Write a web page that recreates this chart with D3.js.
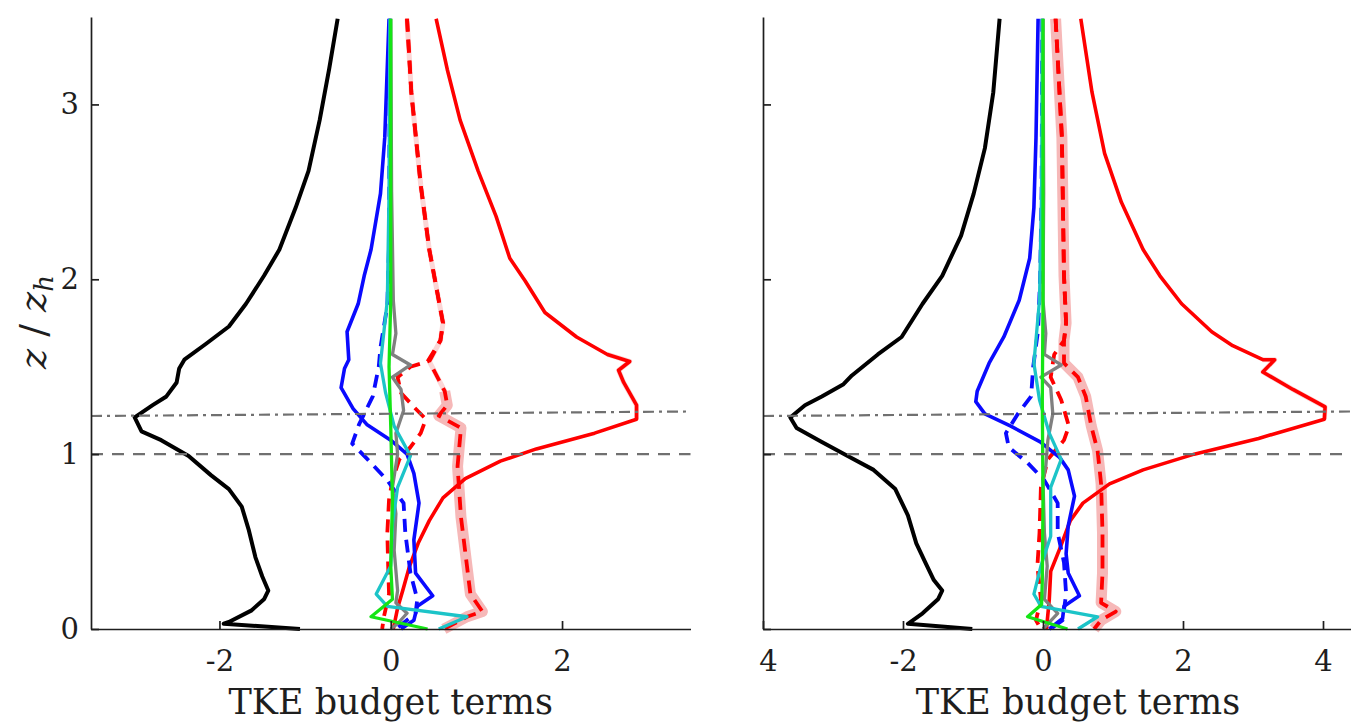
<!DOCTYPE html>
<html>
<head>
<meta charset="utf-8">
<script src="https://cdn.jsdelivr.net/npm/d3@7"></script>
<style>
  body { margin: 0; background: #fff; }
  svg { display: block; font-family: 'DejaVu Serif', 'Liberation Serif', 'Times New Roman', serif; }
</style>
</head>
<body>
<script>
// values: [term, z/zh]
const zDomain = [0, 3.5];
const yTicks = [0, 1, 2, 3];
const leftTicks = [-2, 0, 2];
const rightTicks = [-4, -2, 0, 2, 4];
const rightTickLabels = ['4', '-2', '0', '2', '4'];
const zDashed = 1;
const zDashDot = [1.218, 1.244];

const LBlack = [[-0.62,3.49],[-0.72,3.20],[-0.83,2.91],[-0.96,2.62],[-1.11,2.41],[-1.30,2.17],[-1.48,2.02],[-1.69,1.86],[-1.89,1.73],[-2.16,1.63],[-2.41,1.54],[-2.47,1.49],[-2.50,1.41],[-2.62,1.33],[-2.78,1.28],[-2.99,1.21],[-2.91,1.13],[-2.68,1.08],[-2.36,0.99],[-2.10,0.88],[-1.89,0.80],[-1.74,0.70],[-1.66,0.57],[-1.58,0.41],[-1.50,0.30],[-1.43,0.22],[-1.48,0.17],[-1.63,0.105],[-1.89,0.04],[-1.95,0.03],[-1.06,0.0]];
const LRed = [[0.53,3.49],[0.66,3.20],[0.81,2.91],[1.02,2.62],[1.23,2.36],[1.39,2.12],[1.57,1.99],[1.80,1.81],[2.17,1.67],[2.53,1.57],[2.79,1.53],[2.66,1.48],[2.72,1.41],[2.87,1.28],[2.87,1.20],[2.38,1.12],[1.70,1.03],[1.28,0.96],[0.87,0.86],[0.61,0.75],[0.45,0.62],[0.32,0.49],[0.22,0.36],[0.14,0.22],[0.08,0.12],[0.03,0.0]];
const LRedDashA = [[0.19,3.49],[0.24,3.07],[0.35,2.54],[0.45,2.17],[0.53,1.96],[0.61,1.75],[0.58,1.65],[0.43,1.53],[0.23,1.50],[0.08,1.44],[0.12,1.35],[0.27,1.27],[0.41,1.20],[0.35,1.12],[0.23,1.04],[0.10,0.97],[0.02,0.85],[-0.02,0.74],[-0.04,0.55],[-0.03,0.36],[-0.02,0.20],[-0.08,0.07],[-0.10,0.0]];
const LRedDashB = [[0.19,3.49],[0.24,3.07],[0.35,2.54],[0.45,2.17],[0.53,1.96],[0.61,1.75],[0.58,1.65],[0.45,1.53],[0.63,1.36],[0.66,1.28],[0.56,1.22],[0.82,1.15],[0.78,0.93],[0.82,0.64],[0.89,0.36],[0.93,0.20],[1.07,0.10],[0.89,0.07],[0.62,0.0]];
const LBlue = [[-0.02,3.49],[-0.07,2.81],[-0.12,2.49],[-0.23,2.17],[-0.31,2.02],[-0.38,1.86],[-0.51,1.70],[-0.49,1.54],[-0.54,1.49],[-0.58,1.38],[-0.44,1.26],[-0.28,1.17],[0.0,1.08],[0.19,1.0],[0.27,0.89],[0.33,0.72],[0.27,0.51],[0.29,0.32],[0.49,0.19],[0.31,0.13],[0.27,0.05],[0.12,0.0]];
const LBlueDash = [[-0.01,3.49],[-0.02,2.2],[-0.04,1.85],[-0.12,1.61],[-0.14,1.50],[-0.21,1.33],[-0.37,1.17],[-0.45,1.06],[-0.27,0.97],[-0.04,0.85],[0.15,0.72],[0.17,0.55],[0.23,0.32],[0.31,0.17],[0.29,0.09],[0.06,0.0]];
const LGray = [[0.0,3.49],[0.01,2.5],[0.03,1.88],[0.06,1.69],[0.02,1.57],[0.23,1.51],[0.02,1.44],[0.12,1.37],[0.15,1.25],[0.06,1.12],[0.08,1.0],[0.02,0.81],[0.06,0.66],[0.04,0.45],[0.08,0.22],[0.06,0.15],[0.19,0.09],[0.08,0.03],[0.0,0.0]];
const LCyan = [[-0.01,3.49],[-0.02,2.5],[-0.04,1.88],[-0.12,1.52],[-0.06,1.35],[0.04,1.16],[0.23,0.99],[0.08,0.81],[0.02,0.6],[0.0,0.36],[-0.17,0.20],[-0.04,0.13],[0.89,0.07],[0.56,0.0]];
const LGreen = [[0.0,3.49],[0.0,1.88],[-0.02,1.50],[0.0,1.16],[0.02,0.74],[0.0,0.36],[0.02,0.17],[-0.23,0.07],[0.43,0.0]];

const RBlack = [[-0.62,3.49],[-0.71,3.07],[-0.83,2.75],[-0.99,2.49],[-1.17,2.25],[-1.44,2.02],[-1.72,1.86],[-2.02,1.67],[-2.36,1.57],[-2.73,1.45],[-2.85,1.40],[-3.16,1.33],[-3.40,1.28],[-3.61,1.21],[-3.52,1.15],[-3.16,1.07],[-2.79,0.99],[-2.42,0.91],[-2.11,0.80],[-1.93,0.65],[-1.81,0.49],[-1.68,0.38],[-1.56,0.28],[-1.44,0.22],[-1.50,0.17],[-1.72,0.09],[-1.93,0.03],[-1.01,0.0]];
const RRed = [[0.54,3.49],[0.70,3.07],[0.88,2.72],[1.12,2.44],[1.43,2.17],[1.67,2.02],[1.98,1.86],[2.41,1.70],[2.71,1.62],[3.14,1.54],[3.31,1.54],[3.14,1.47],[3.57,1.37],[4.03,1.27],[4.02,1.20],[3.08,1.09],[2.16,1.0],[1.43,0.91],[0.95,0.83],[0.57,0.72],[0.39,0.62],[0.24,0.46],[0.11,0.33],[0.09,0.17],[0.05,0.0]];
const RRedDashA = [[0.18,3.49],[0.27,2.81],[0.30,2.02],[0.33,1.75],[0.30,1.65],[0.16,1.57],[0.11,1.44],[0.26,1.31],[0.37,1.16],[0.30,1.08],[0.07,0.97],[-0.03,0.81],[-0.05,0.55],[-0.08,0.36],[-0.03,0.17],[-0.10,0.05],[-0.03,0.0]];
const RRedDashB = [[0.18,3.49],[0.27,2.81],[0.30,2.02],[0.33,1.75],[0.30,1.65],[0.30,1.52],[0.50,1.44],[0.61,1.33],[0.69,1.16],[0.78,1.02],[0.83,0.83],[0.85,0.55],[0.85,0.32],[0.83,0.15],[1.04,0.10],[0.83,0.05],[0.73,0.0]];
const RBlue = [[-0.07,3.49],[-0.10,2.81],[-0.13,2.41],[-0.19,2.12],[-0.34,1.88],[-0.56,1.67],[-0.77,1.52],[-0.94,1.36],[-0.96,1.30],[-0.83,1.23],[-0.46,1.16],[-0.04,1.07],[0.24,0.98],[0.36,0.91],[0.45,0.76],[0.36,0.59],[0.33,0.43],[0.36,0.32],[0.52,0.19],[0.30,0.13],[0.28,0.06],[0.09,0.0]];
const RBlueDash = [[-0.01,3.49],[-0.02,2.5],[-0.04,2.02],[-0.07,1.71],[-0.14,1.50],[-0.17,1.33],[-0.36,1.23],[-0.53,1.12],[-0.49,1.04],[-0.22,0.95],[0.02,0.85],[0.21,0.72],[0.21,0.55],[0.30,0.38],[0.33,0.20],[0.28,0.05],[0.11,0.0]];
const RGray = [[0.0,3.49],[0.01,2.5],[0.0,1.88],[0.04,1.69],[0.02,1.57],[0.26,1.51],[-0.03,1.44],[0.11,1.38],[0.14,1.23],[0.07,1.08],[0.04,0.93],[0.0,0.85],[0.02,0.55],[0.06,0.36],[0.02,0.17],[0.21,0.09],[0.07,0.03],[0.0,0.0]];
const RCyan = [[-0.01,3.49],[-0.02,2.5],[-0.05,1.88],[-0.13,1.52],[-0.05,1.31],[0.09,1.12],[0.26,0.97],[0.11,0.81],[0.11,0.53],[-0.03,0.36],[-0.13,0.20],[-0.03,0.13],[0.78,0.07],[0.50,0.0]];
const RGreen = [[0.0,3.49],[0.0,1.88],[-0.01,1.31],[0.0,0.74],[-0.01,0.28],[-0.02,0.14],[-0.22,0.07],[0.35,0.0]];

const W = 1351, H = 722;
const FONT = "'DejaVu Serif', 'Liberation Serif', 'Times New Roman', serif";
const svg = d3.select('body').append('svg').attr('width', W).attr('height', H);

const y = d3.scaleLinear().domain(zDomain).range([629, 17]);

// line styles for each term
const styles = {
  band:     {color: '#f6b8b8', width: 11, dash: null},
  bandFaint:{color: '#fbd6d6', width: 5, dash: null},
  black:    {color: '#000000', width: 4, dash: null},
  red:      {color: '#ff0000', width: 3.6, dash: null},
  redDash:  {color: '#ff0000', width: 3.8, dash: '13,8'},
  blue:     {color: '#0a0aff', width: 3.6, dash: null},
  blueDash: {color: '#0a0aff', width: 3.8, dash: '13,8'},
  cyan:     {color: '#1cc4c8', width: 3.3, dash: null},
  green:    {color: '#15e515', width: 3.3, dash: null},
  gray:     {color: '#808080', width: 3.3, dash: null}
};

const drawPanel = function(p){
  const x = d3.scaleLinear().domain(p.domain).range(p.range);
  const g = svg.append('g');
  const line = d3.line().x(d=>x(d[0])).y(d=>y(d[1]));

  p.series.forEach(s=>{
    const st = styles[s.style];
    g.append('path')
      .datum(s.data)
      .attr('d', line)
      .attr('fill', 'none')
      .attr('stroke', st.color)
      .attr('stroke-width', st.width)
      .attr('stroke-linejoin', 'round')
      .attr('stroke-dasharray', st.dash);
  });

  // reference heights
  const xEnd = Math.min(p.range[1], W);
  g.append('line')
    .attr('x1', p.range[0]).attr('x2', xEnd)
    .attr('y1', y(zDashed)).attr('y2', y(zDashed))
    .attr('stroke', '#707070').attr('stroke-width', 2.2)
    .attr('stroke-dasharray', '12,9');
  g.append('line')
    .attr('x1', p.range[0]).attr('x2', xEnd)
    .attr('y1', y(zDashDot[0])).attr('y2', y(zDashDot[1]))
    .attr('stroke', '#707070').attr('stroke-width', 2.2)
    .attr('stroke-dasharray', '11,5,3,5');

  const xAxis = g.append('g')
    .attr('transform', `translate(0,${y(0)})`)
    .call(d3.axisBottom(x).tickValues(p.ticks).tickFormat((d,i)=>p.labels[i])
      .tickSizeInner(-8).tickSizeOuter(0).tickPadding(21));
  const yAxis = g.append('g')
    .attr('transform', `translate(${p.range[0]},0)`)
    .call(d3.axisLeft(y).tickValues(yTicks).tickFormat(d=>p.yLabels ? String(d) : '')
      .tickSizeInner(-8).tickSizeOuter(0).tickPadding(12));

  [xAxis, yAxis].forEach(a=>{
    a.attr('font-family', FONT);
    a.selectAll('path, line').attr('stroke', '#1e1e1e').attr('stroke-width', 1.7);
    a.selectAll('text').attr('fill', '#1e1e1e').attr('font-size', 29);
  });
  if (p.firstLabelShift) xAxis.select('.tick text').attr('dx', p.firstLabelShift);

  g.append('text')
    .attr('x', (p.range[0] + p.range[1]) / 2)
    .attr('y', 714)
    .attr('text-anchor', 'middle')
    .attr('font-family', FONT)
    .attr('font-size', 35)
    .attr('fill', '#1e1e1e')
    .text('TKE budget terms');
};

drawPanel({
  domain: [-3.5, 3.5], range: [91, 690.5],
  ticks: leftTicks, labels: leftTicks.map(String), yLabels: true,
  series: [
    {data: LRed.filter(d=>d[1] > 1.15 && d[1] < 1.6), style: 'bandFaint'},
    {data: LRedDashB, style: 'bandFaint'},
    {data: LRedDashB.filter(d=>d[1] <= 1.4), style: 'band'},
    {data: LBlack, style: 'black'}, {data: LRed, style: 'red'},
    {data: LRedDashB, style: 'redDash'}, {data: LRedDashA, style: 'redDash'},
    {data: LBlue, style: 'blue'}, {data: LBlueDash, style: 'blueDash'},
    {data: LGray, style: 'gray'}, {data: LCyan, style: 'cyan'}, {data: LGreen, style: 'green'}
  ]
});

drawPanel({
  domain: [-4, 5], range: [763, 1393],
  ticks: rightTicks, labels: rightTickLabels, yLabels: false, firstLabelShift: 5,
  series: [
    {data: RRed.filter(d=>d[1] > 1.15 && d[1] < 1.6), style: 'bandFaint'},
    {data: RRedDashB, style: 'band'},
    {data: RBlack, style: 'black'}, {data: RRed, style: 'red'},
    {data: RRedDashB, style: 'redDash'}, {data: RRedDashA, style: 'redDash'},
    {data: RBlue, style: 'blue'}, {data: RBlueDash, style: 'blueDash'},
    {data: RGray, style: 'gray'}, {data: RCyan, style: 'cyan'}, {data: RGreen, style: 'green'}
  ]
});

// y label z/z_h
const yl = svg.append('text')
  .attr('transform', 'translate(46,322) rotate(-90)')
  .attr('text-anchor', 'middle')
  .attr('font-family', FONT)
  .attr('font-size', 38)
  .attr('font-style', 'italic')
  .attr('fill', '#1e1e1e');
yl.append('tspan').text('z');
yl.append('tspan').attr('font-style', 'normal').text(' / ');
yl.append('tspan').text('z');
yl.append('tspan').attr('font-size', 26).attr('dy', 7).text('h');
</script>
</body>
</html>
